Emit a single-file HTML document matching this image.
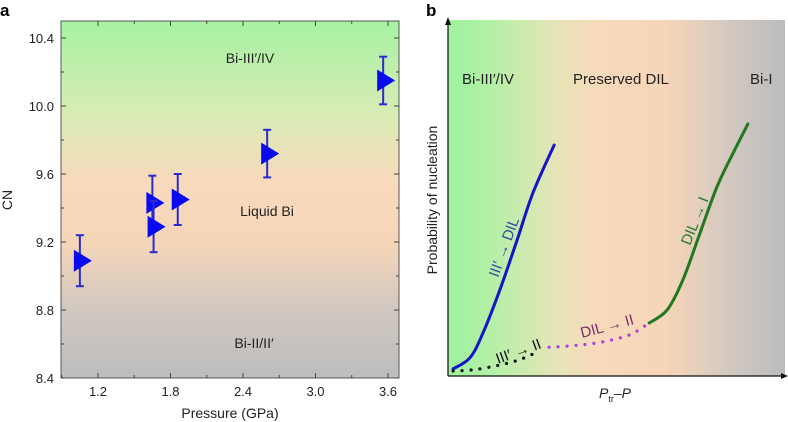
<!DOCTYPE html>
<html><head><meta charset="utf-8"><style>
body{margin:0;background:#fff;width:788px;height:422px;overflow:hidden;font-family:"Liberation Sans",sans-serif}
svg{display:block}
text{font-family:"Liberation Sans",sans-serif}
</style></head><body>
<svg id="s" width="788" height="422">
<defs>
<linearGradient id="ga" x1="0" y1="0" x2="0" y2="1">
<stop offset="0" stop-color="#a6f2a2"/><stop offset="0.25" stop-color="#d6ecb4"/><stop offset="0.45" stop-color="#f8d9bb"/><stop offset="0.62" stop-color="#f6d6b8"/><stop offset="0.8" stop-color="#d2c8c0"/><stop offset="1" stop-color="#bdbdbd"/>
</linearGradient>
<linearGradient id="gb" x1="0" y1="0" x2="1" y2="0">
<stop offset="0" stop-color="#9ef29e"/><stop offset="0.12" stop-color="#b2f0a6"/><stop offset="0.33" stop-color="#e8e4b8"/><stop offset="0.45" stop-color="#f8d9bb"/><stop offset="0.65" stop-color="#f6d5b8"/><stop offset="0.85" stop-color="#cfc7c1"/><stop offset="1" stop-color="#bcbcbc"/>
</linearGradient>
</defs>
<g id="pa"></g>
<g id="pb"></g>
</svg>
<script>
const NS="http://www.w3.org/2000/svg";
const pressure=[1.05,1.65,1.66,1.86,2.6,3.56];
const cn=[9.09,9.43,9.29,9.45,9.72,10.15];
const cnErr=[0.15,0.16,0.15,0.15,0.14,0.14];
const xTicks=[1.2,1.8,2.4,3.0,3.6];
const yTicks=[8.4,8.8,9.2,9.6,10.0,10.4];
// panel b schematic curves (normalized 0..1)
const blueX=[0.015,0.065,0.104,0.154,0.205,0.252,0.315];
const blueY=[0.02,0.051,0.121,0.242,0.382,0.514,0.649];
const greenX=[0.597,0.650,0.697,0.748,0.798,0.846,0.890];
const greenY=[0.149,0.185,0.270,0.402,0.531,0.626,0.708];
const blackX=[0.015,0.08,0.15,0.21,0.26];
const blackY=[0.014,0.018,0.03,0.045,0.065];
const purpX=[0.30,0.38,0.46,0.54,0.597];
const purpY=[0.081,0.086,0.096,0.116,0.149];
function el(p,t,a){const e=document.createElementNS(NS,t);for(const k in a)e.setAttribute(k,a[k]);p.appendChild(e);return e;}
const pa=document.getElementById('pa'),pb=document.getElementById('pb');
const L=61,R=399,T=21,B=378;
const xs=v=>98+(v-1.2)*(290/2.4);
const ys=v=>378-(v-8.4)*(340/2.0);
let r=el(pa,'rect',{x:L,y:T,width:R-L,height:B-T,fill:'url(#ga)',stroke:'#555','stroke-width':1});

xTicks.forEach((v,i)=>{const x=xs(v);el(pa,'line',{x1:x,y1:B,x2:x,y2:B-5,stroke:'#444'});el(pa,'line',{x1:x,y1:T,x2:x,y2:T+5,stroke:'#444'});
 if(i<xTicks.length-1){const xm=xs(v+0.3);el(pa,'line',{x1:xm,y1:B,x2:xm,y2:B-3,stroke:'#444'});el(pa,'line',{x1:xm,y1:T,x2:xm,y2:T+3,stroke:'#444'});}
 const t=el(pa,'text',{x:x,y:396,'text-anchor':'middle','font-size':13,fill:'#222'});t.textContent=v.toFixed(1);
 });
{const xm=xs(0.9);el(pa,'line',{x1:xm,y1:B,x2:xm,y2:B-3,stroke:'#444'});}
yTicks.forEach((v,i)=>{const y=ys(v);el(pa,'line',{x1:L,y1:y,x2:L+5,y2:y,stroke:'#444'});el(pa,'line',{x1:R,y1:y,x2:R-5,y2:y,stroke:'#444'});
 if(i<yTicks.length-1){const ym=ys(v+0.2);el(pa,'line',{x1:L,y1:ym,x2:L+3,y2:ym,stroke:'#444'});el(pa,'line',{x1:R,y1:ym,x2:R-3,y2:ym,stroke:'#444'});}
 const t=el(pa,'text',{x:54,y:y+5,'text-anchor':'end','font-size':13,fill:'#222'});t.textContent=v.toFixed(1);
 });
function txt(p,x,y,s,name,extra){const t=el(p,'text',Object.assign({x:x,y:y,'font-size':14,fill:'#222'},extra||{}));t.textContent=s;return t;}
txt(pa,230,418,'Pressure (GPa)','x-axis-title',{'text-anchor':'middle'});
txt(pa,12,200,'CN','y-axis-title',{'text-anchor':'middle',transform:'rotate(-90 12 200)'});
txt(pa,0,16,'a','panel-a-label',{'font-size':17,'font-weight':'bold',fill:'#000'});
txt(pa,250,63,'Bi-III′/IV','region-label-bi-iii',{'text-anchor':'middle'});
txt(pa,267,216,'Liquid Bi','region-label-liquid',{'text-anchor':'middle'});
txt(pa,254,348,'Bi-II/II′','region-label-bi-ii',{'text-anchor':'middle'});
pressure.forEach((p,i)=>{const x=xs(p),y=ys(cn[i]),y1=ys(cn[i]+cnErr[i]),y2=ys(cn[i]-cnErr[i]);
 const g=el(pa,'g',{});
 el(g,'line',{x1:x,y1:y1,x2:x,y2:y2,stroke:'#2a2ad0','stroke-width':2});
 el(g,'line',{x1:x-4,y1:y1,x2:x+4,y2:y1,stroke:'#2a2ad0','stroke-width':2});
 el(g,'line',{x1:x-4,y1:y2,x2:x+4,y2:y2,stroke:'#2a2ad0','stroke-width':2});
 el(g,'polygon',{points:`${x-6},${y-11} ${x+12},${y} ${x-6},${y+11}`,fill:'#0a0af0'});});
const bL=448,bR=785,bT=20,bB=376;
const bx=v=>bL+v*(bR-bL),by=v=>bB-v*(bB-bT);
r=el(pb,'rect',{x:bL,y:bT,width:bR-bL,height:bB-bT,fill:'url(#gb)'});

el(pb,'line',{x1:bL,y1:bB,x2:bR,y2:bB,stroke:'#111','stroke-width':1.2});
el(pb,'line',{x1:bL,y1:bB,x2:bL,y2:bT,stroke:'#111','stroke-width':1.2});
el(pb,'polygon',{points:`${bR+3},${bB} ${bR-4},${bB-3} ${bR-4},${bB+3}`,fill:'#111'});
el(pb,'polygon',{points:`${bL},${bT-3} ${bL-3},${bT+5} ${bL+3},${bT+5}`,fill:'#111'});
txt(pb,426,16,'b','panel-b-label',{'font-size':17,'font-weight':'bold',fill:'#000'});
txt(pb,462,84,'Bi-III′/IV','region-label-bi-iii-b',{'font-size':15});
txt(pb,573,84,'Preserved DIL','region-label-dil',{'font-size':15});
txt(pb,750,84,'Bi-I','region-label-bi-i',{'font-size':15});
txt(pb,437,200,'Probability of nucleation','y-axis-title-b',{'text-anchor':'middle',transform:'rotate(-90 437 200)'});
const xt=txt(pb,599,398,'','x-axis-title-b',{'font-style':'italic'});
xt.innerHTML='P<tspan font-size="9" font-style="normal" dy="4">tr</tspan><tspan dy="-4" font-style="normal">–</tspan>P';
function curve(X,Y,attrs,name){
 const P=X.map((x,i)=>[bx(x),by(Y[i])]);
 let d='M'+P[0][0].toFixed(1)+','+P[0][1].toFixed(1);
 for(let i=0;i<P.length-1;i++){const p0=P[Math.max(0,i-1)],p1=P[i],p2=P[i+1],p3=P[Math.min(P.length-1,i+2)];
  const c1=[p1[0]+(p2[0]-p0[0])/6,p1[1]+(p2[1]-p0[1])/6],c2=[p2[0]-(p3[0]-p1[0])/6,p2[1]-(p3[1]-p1[1])/6];
  d+=` C${c1[0].toFixed(1)},${c1[1].toFixed(1)} ${c2[0].toFixed(1)},${c2[1].toFixed(1)} ${p2[0].toFixed(1)},${p2[1].toFixed(1)}`;}
 const p=el(pb,'path',Object.assign({d:d,fill:'none'},attrs));}
curve(blueX,blueY,{stroke:'#1515c8','stroke-width':3,'stroke-linecap':'round'},'curve-iii-to-dil');
curve(greenX,greenY,{stroke:'#1f7a1f','stroke-width':3,'stroke-linecap':'round'},'curve-dil-to-i');
curve(blackX,blackY,{stroke:'#111','stroke-width':3.2,'stroke-dasharray':'0 9','stroke-linecap':'round'},'curve-iii-to-ii');
curve(purpX,purpY,{stroke:'#b040e0','stroke-width':3.2,'stroke-dasharray':'0 9','stroke-linecap':'round'},'curve-dil-to-ii');
txt(pb,498,278,'III′ → DIL','label-iii-to-dil',{fill:'#3050a0','font-size':15,transform:'rotate(-70 498 278)'});
txt(pb,690,246,'DIL → I','label-dil-to-i',{fill:'#2a7a2a','font-size':15,transform:'rotate(-68 690 246)'});
txt(pb,498,364,'III′ → II','label-iii-to-ii',{fill:'#111','font-size':15,transform:'rotate(-20 498 364)'});
txt(pb,582,338,'DIL → II','label-dil-to-ii',{fill:'#7a2a6a','font-size':15,transform:'rotate(-15 582 338)'});
</script>
</body></html>
